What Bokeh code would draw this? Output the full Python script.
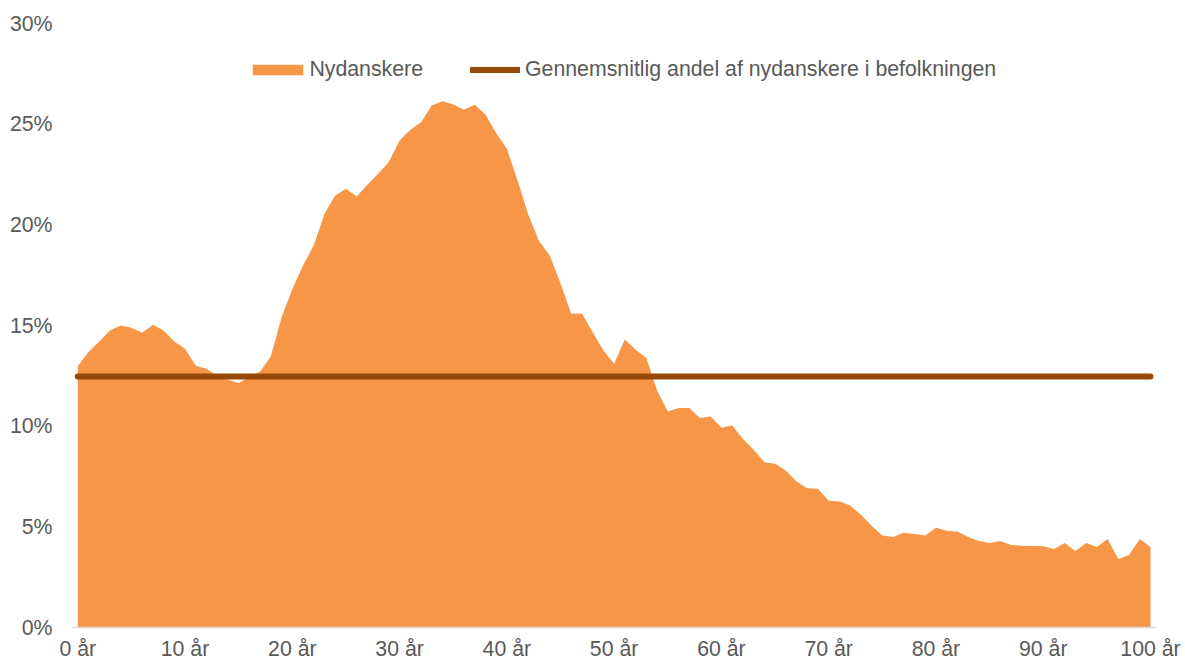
from bokeh.plotting import figure
from bokeh.models import PrintfTickFormatter, FixedTicker, Range1d, Legend, LegendItem
from bokeh.embed import file_html
from bokeh.resources import INLINE

ages = list(range(101))
nydanskere = [
    12.97, 13.68, 14.21, 14.75, 15.0, 14.89, 14.64, 15.04, 14.75, 14.2,
    13.84, 13.0, 12.85, 12.52, 12.3, 12.15, 12.43, 12.72, 13.46, 15.41,
    16.8, 17.98, 18.98, 20.55, 21.46, 21.79, 21.41, 21.99, 22.54, 23.12,
    24.19, 24.72, 25.1, 25.93, 26.14, 25.98, 25.72, 25.97, 25.48, 24.56,
    23.78, 22.2, 20.5, 19.2, 18.48, 17.1, 15.58, 15.6, 14.67, 13.76,
    13.1, 14.3, 13.8, 13.4, 11.77, 10.73, 10.9, 10.9, 10.4, 10.48,
    9.92, 10.03, 9.37, 8.83, 8.21, 8.13, 7.8, 7.25, 6.92, 6.89,
    6.3, 6.26, 6.06, 5.6, 5.05, 4.57, 4.5, 4.7, 4.65, 4.57,
    4.95, 4.8, 4.77, 4.5, 4.3, 4.2, 4.3, 4.1, 4.06, 4.05,
    4.04, 3.9, 4.2, 3.8, 4.2, 4.0, 4.4, 3.4, 3.6, 4.4,
    4.0,
]
gennemsnit = 12.47
x_ticks = [0, 10, 20, 30, 40, 50, 60, 70, 80, 90, 100]
y_ticks = [0, 5, 10, 15, 20, 25, 30]

ORANGE = "#F79646"
BROWN = "#984807"
TEXT = "#595959"
FONT = "Liberation Sans"
FS = "21.3px"

p = figure(width=1185, height=663, output_backend="svg", toolbar_location=None,
           x_range=Range1d(-0.49, 100.56), y_range=Range1d(0, 30),
           min_border_left=72, min_border_right=29, min_border_top=23, min_border_bottom=36)
p.outline_line_color = None
p.xgrid.visible = False
p.ygrid.visible = False
p.background_fill_color = "white"
p.border_fill_color = "white"

area = p.varea(x=ages, y1=[0] * len(ages), y2=nydanskere, fill_color=ORANGE)
line = p.line(x=ages, y=[gennemsnit] * len(ages), line_color=BROWN, line_width=6, line_cap="round")

for ax in (p.xaxis, p.yaxis):
    ax.major_tick_line_color = None
    ax.minor_tick_line_color = None
    ax.major_tick_out = 0
    ax.major_tick_in = 0
    ax.minor_tick_out = 0
    ax.minor_tick_in = 0
    ax.major_label_text_font = FONT
    ax.major_label_text_font_size = FS
    ax.major_label_text_color = TEXT

p.xaxis.ticker = FixedTicker(ticks=x_ticks)
p.xaxis.formatter = PrintfTickFormatter(format="%d år")
p.xaxis.axis_line_color = "#D9D9D9"
p.xaxis.axis_line_width = 1.5
p.xaxis.major_label_standoff = 9

p.yaxis.ticker = FixedTicker(ticks=y_ticks)
p.yaxis.formatter = PrintfTickFormatter(format="%d%%")
p.yaxis.axis_line_color = None
p.yaxis.major_label_standoff = 20


def make_legend(item, loc, gw, standoff):
    lg = Legend(items=[item], location=loc, orientation="horizontal")
    lg.border_line_color = None
    lg.background_fill_alpha = 0
    lg.padding = 0
    lg.margin = 0
    lg.glyph_width = gw
    lg.glyph_height = 13
    lg.label_standoff = standoff
    lg.label_text_font = FONT
    lg.label_text_font_size = FS
    lg.label_text_color = TEXT
    return lg


p.add_layout(make_legend(LegendItem(label="Nydanskere", renderers=[area]), (174.4, 545), 63, 0), "center")
p.add_layout(make_legend(LegendItem(label="Gennemsnitlig andel af nydanskere i befolkningen", renderers=[line]),
                         (398, 545), 50, 5), "center")

open("out.html", "w").write(file_html(p, INLINE))
